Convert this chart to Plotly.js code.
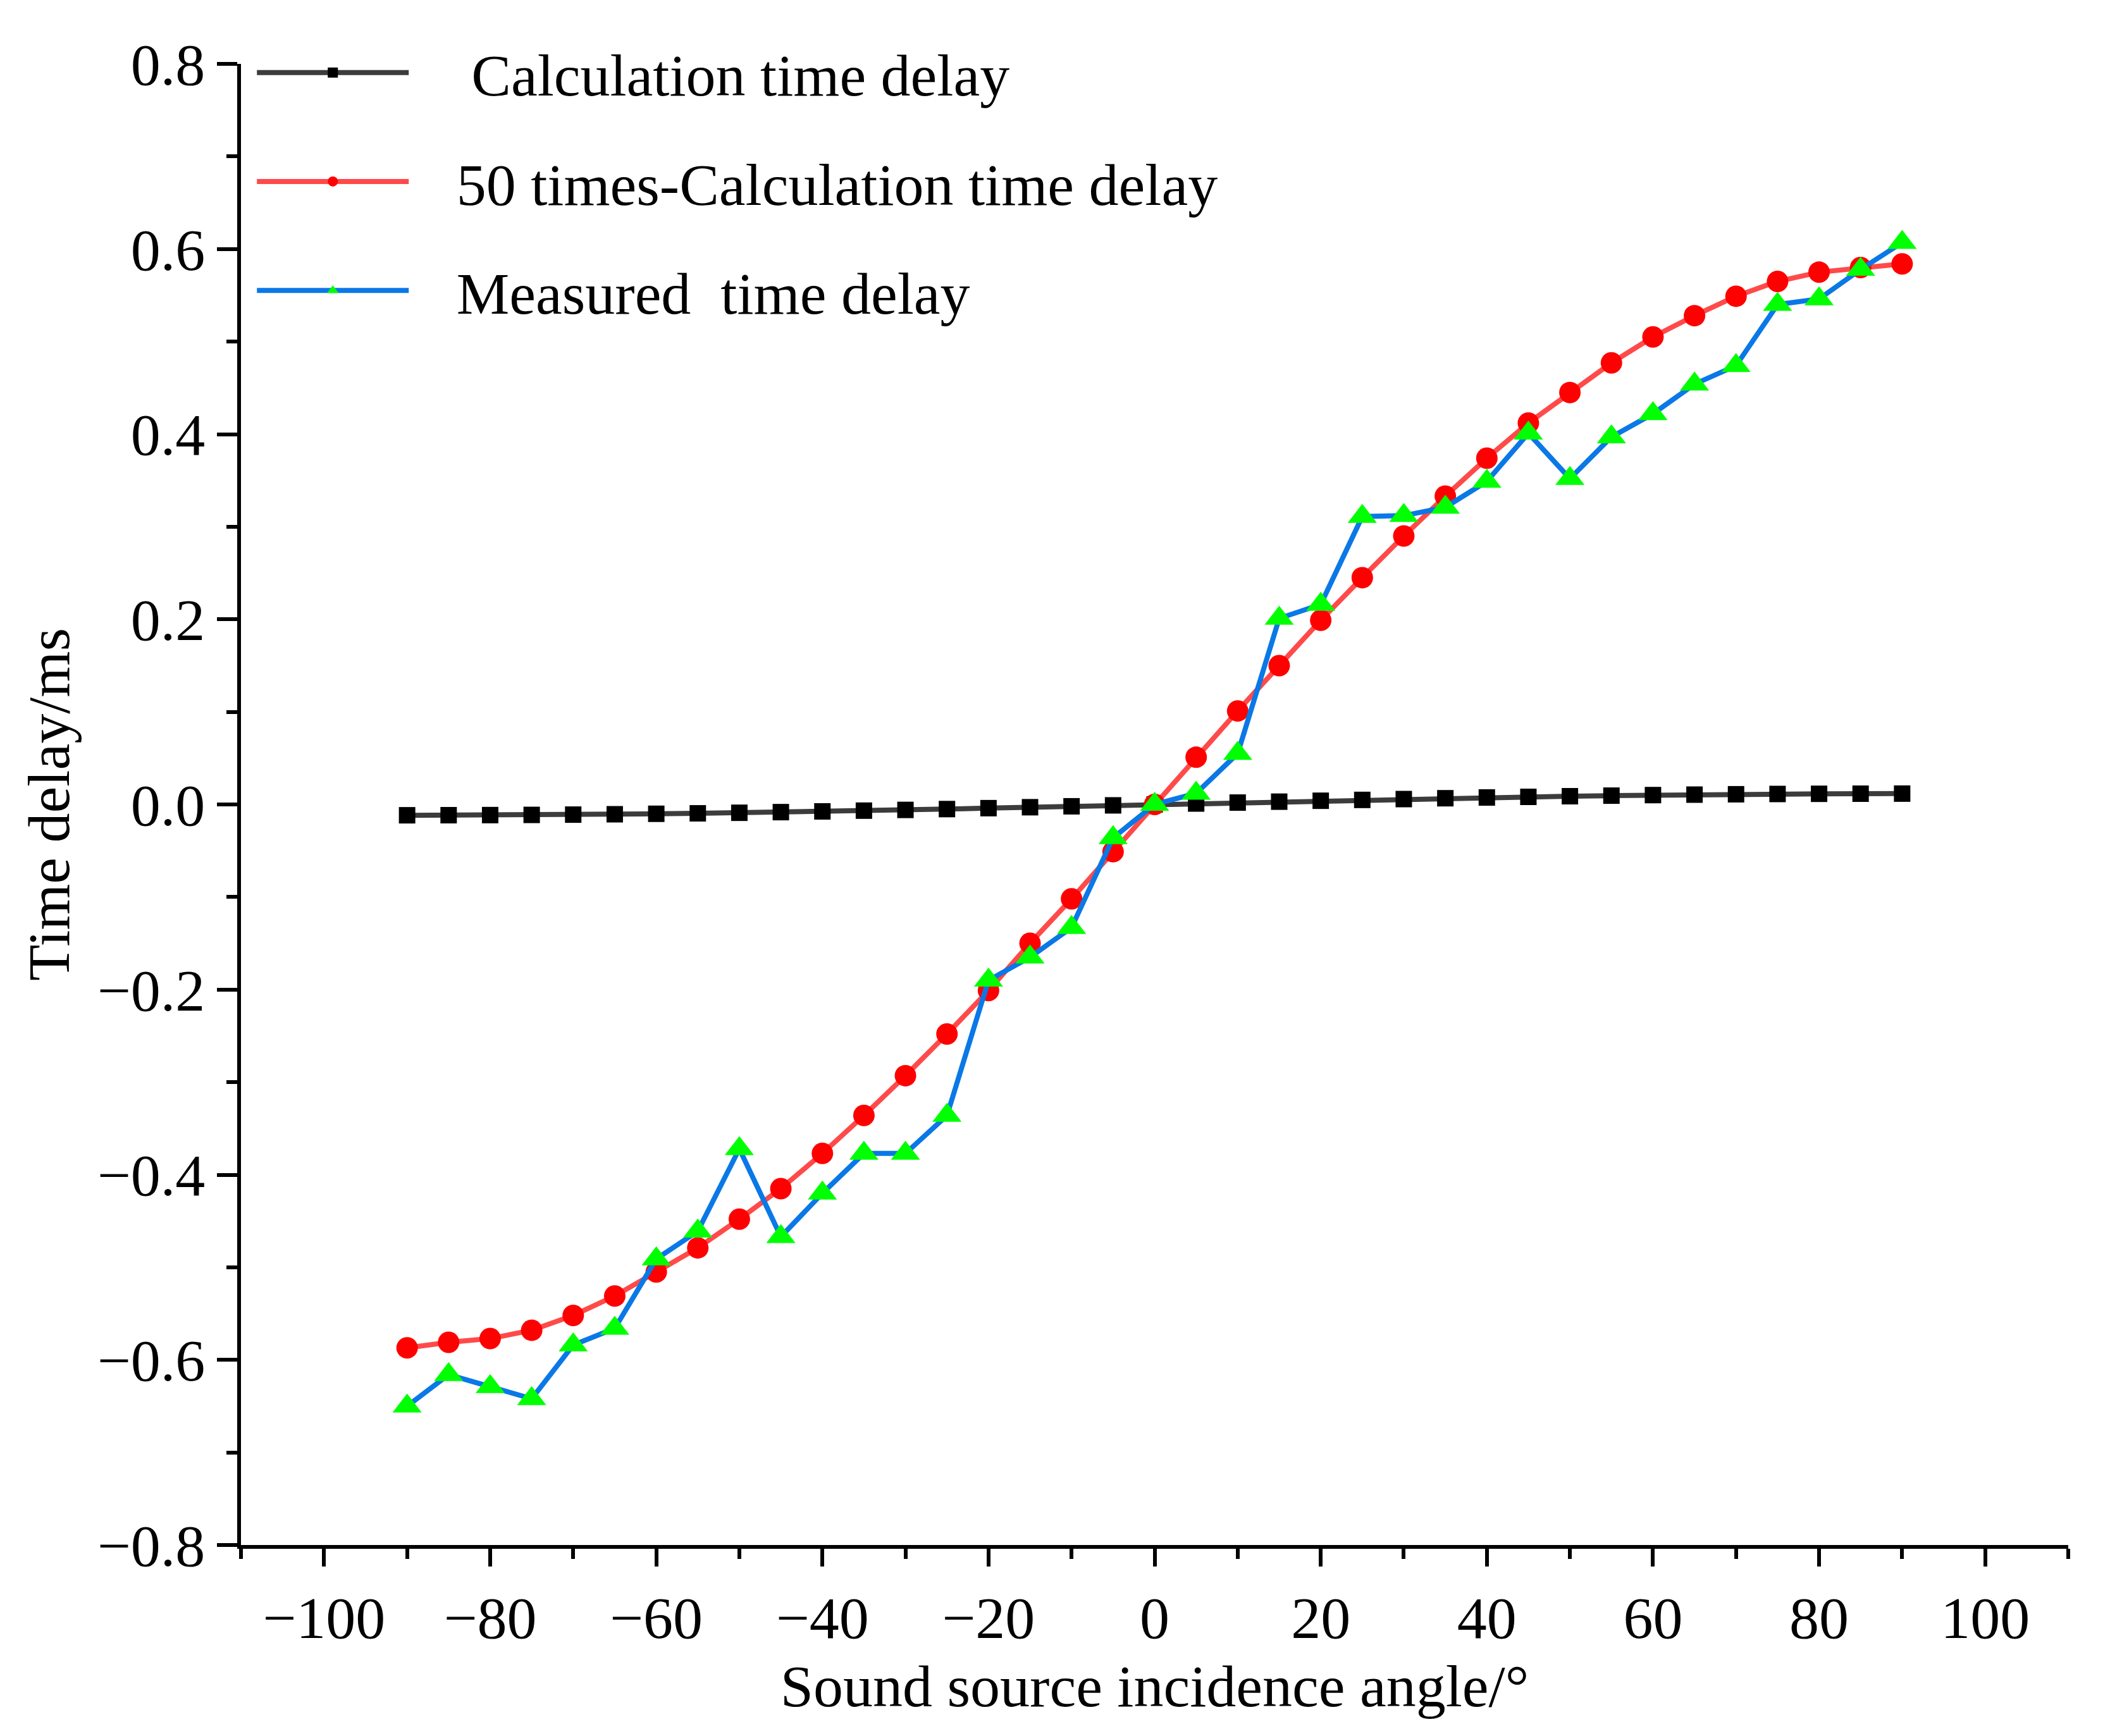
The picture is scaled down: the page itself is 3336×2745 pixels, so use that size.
<!DOCTYPE html>
<html>
<head>
<meta charset="utf-8">
<script src="https://cdn.plot.ly/plotly-3.0.1.min.js"></script>
<style>
  html, body { margin: 0; padding: 0; background: #fff; }
  #chart { width: 3336px; height: 2745px; }
</style>
</head>
<body>
<div id="chart"></div>
<script>
// incidence angles (deg)
var angles = [-90,-85,-80,-75,-70,-65,-60,-55,-50,-45,-40,-35,-30,-25,-20,-15,-10,-5,0,
              5,10,15,20,25,30,35,40,45,50,55,60,65,70,75,80,85,90];

// calculation time delay (ms)
var calcDelay = [-0.0117,-0.0116,-0.0115,-0.0113,-0.0110,-0.0106,-0.0101,-0.0096,-0.0090,-0.0083,
                 -0.0075,-0.0067,-0.0059,-0.0050,-0.0040,-0.0030,-0.0020,-0.0010,0,
                 0.0010,0.0020,0.0030,0.0040,0.0049,0.0058,0.0067,0.0075,0.0082,0.0089,0.0095,
                 0.0101,0.0106,0.0110,0.0113,0.0115,0.0116,0.0117];

// 50 x calculation time delay (ms)
var calc50Delay = [-0.587,-0.581,-0.577,-0.568,-0.552,-0.531,-0.505,-0.479,-0.448,-0.415,
                   -0.377,-0.336,-0.293,-0.248,-0.201,-0.150,-0.102,-0.051,0,
                   0.051,0.101,0.150,0.199,0.245,0.290,0.333,0.374,0.412,0.445,0.477,
                   0.505,0.528,0.549,0.565,0.575,0.580,0.584];

// measured time delay (ms)
var measDelay = [-0.650,-0.616,-0.629,-0.642,-0.584,-0.566,-0.491,-0.461,-0.372,-0.467,
                 -0.420,-0.377,-0.377,-0.336,-0.190,-0.165,-0.133,-0.036,0,
                 0.012,0.055,0.201,0.216,0.311,0.312,0.321,0.349,0.401,0.352,0.397,
                 0.422,0.454,0.474,0.540,0.546,0.578,0.607];

var names = ["Calculation time delay", "50 times-Calculation time delay", "Measured  time delay"];

var font = "Liberation Serif, Times New Roman, serif";
var sp = "\u00a0";

var traces = [
  {x: angles, y: calcDelay, name: sp.repeat(4) + names[0], mode: "lines+markers", legendgroup: "a",
   line: {color: "#3c3c3c", width: 8},
   marker: {symbol: "square", size: 26, color: "#000000"}},
  {x: angles, y: calc50Delay, name: sp.repeat(3) + names[1], mode: "lines+markers", legendgroup: "b",
   line: {color: "#ff4a4a", width: 8},
   marker: {symbol: "circle", size: 34, color: "#ff0000"}},
  {x: angles, y: measDelay, name: sp.repeat(3) + names[2].replace("  ", sp + " "), mode: "lines+markers", legendgroup: "c",
   line: {color: "#0a78e6", width: 8},
   marker: {symbol: "triangle-up", size: 40, color: "#00ff00"}}
];

var layout = {
  width: 3336, height: 2745,
  margin: {l: 381, r: 66, t: 101, b: 302},
  paper_bgcolor: "#ffffff", plot_bgcolor: "#ffffff",
  font: {family: font, size: 94, color: "#000"},
  showlegend: true,
  legend: {
    x: 0.007, y: 1.023, xanchor: "left", yanchor: "top",
    traceorder: "grouped", tracegroupgap: 47,
    itemwidth: 240, itemsizing: "trace",
    bgcolor: "rgba(0,0,0,0)",
    font: {family: font, size: 94, color: "#000"}
  },
  xaxis: {
    range: [-110, 110], dtick: 20, tick0: -100,
    showgrid: false, zeroline: false,
    showline: true, linecolor: "#000", linewidth: 6,
    ticks: "outside", ticklen: 28, tickwidth: 6, tickcolor: "#000",
    minor: {dtick: 10, tick0: -110, ticks: "outside", ticklen: 16, tickwidth: 6, tickcolor: "#000", showgrid: false},
    tickfont: {family: font, size: 94},
    title: {text: "Sound source incidence angle/°", font: {family: font, size: 94}, standoff: 25}
  },
  yaxis: {
    range: [-0.8, 0.8], dtick: 0.2, tick0: 0, tickformat: ".1f",
    showgrid: false, zeroline: false,
    showline: true, linecolor: "#000", linewidth: 6,
    ticks: "outside", ticklen: 32, tickwidth: 6, tickcolor: "#000",
    minor: {dtick: 0.1, ticks: "outside", ticklen: 17, tickwidth: 6, tickcolor: "#000", showgrid: false},
    tickfont: {family: font, size: 94},
    title: {text: "Time delay/ms", font: {family: font, size: 94}, standoff: 15}
  }
};

Plotly.newPlot("chart", traces, layout, {displayModeBar: false, staticPlot: true});
</script>
</body>
</html>
